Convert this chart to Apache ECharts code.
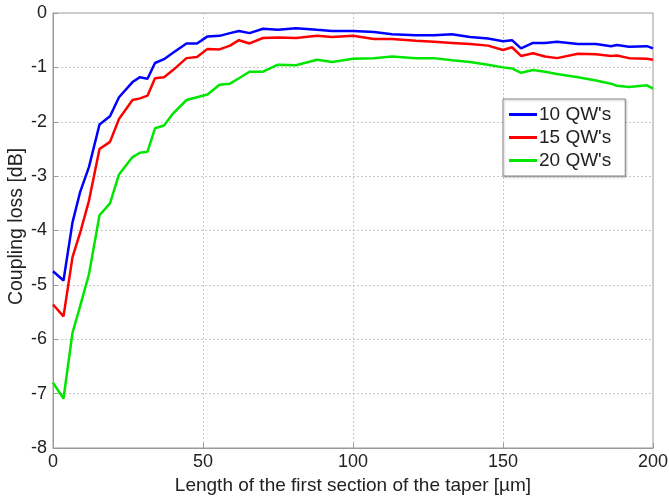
<!DOCTYPE html>
<html>
<head>
<meta charset="utf-8">
<script src="https://cdn.jsdelivr.net/npm/echarts@6/dist/echarts.min.js"></script>
<style>
  html, body { margin: 0; padding: 0; background: #fff; }
  #chart { width: 669px; height: 496px; }
</style>
</head>
<body>
<div id="chart"></div>
<script>
// taper length samples (µm)
var lengths = [0, 3.5, 6.5, 9, 12, 15.5, 19, 22, 26.5, 29, 31.5, 34, 37, 40, 44.5, 48,
  51.5, 55.5, 59, 62, 65.5, 70, 75, 81, 88, 93, 100, 107, 113, 121, 127, 133, 139,
  145, 150, 153, 156, 160, 164, 168, 175, 181, 186, 188, 192, 198, 200]

var qw10 = [-4.75, -4.92, -3.85, -3.3, -2.83, -2.05, -1.9, -1.55, -1.27, -1.18, -1.21, -0.92,
  -0.85, -0.73, -0.56, -0.56, -0.43, -0.42, -0.37, -0.33, -0.37, -0.29, -0.31, -0.28, -0.31,
  -0.33, -0.33, -0.35, -0.39, -0.41, -0.41, -0.39, -0.44, -0.47, -0.52, -0.5, -0.65, -0.55,
  -0.55, -0.53, -0.57, -0.57, -0.61, -0.59, -0.62, -0.61, -0.65]

var qw15 = [-5.36, -5.58, -4.49, -4.05, -3.45, -2.5, -2.37, -1.95, -1.6, -1.57, -1.52, -1.2,
  -1.18, -1.05, -0.83, -0.81, -0.66, -0.67, -0.6, -0.5, -0.56, -0.46, -0.45, -0.46, -0.42,
  -0.44, -0.42, -0.48, -0.48, -0.51, -0.53, -0.55, -0.57, -0.6, -0.68, -0.63, -0.79, -0.74,
  -0.8, -0.83, -0.75, -0.76, -0.79, -0.78, -0.83, -0.84, -0.86]

var qw20 = [-6.8, -7.09, -5.88, -5.4, -4.8, -3.72, -3.5, -2.97, -2.65, -2.57, -2.55, -2.12,
  -2.07, -1.85, -1.6, -1.55, -1.5, -1.32, -1.3, -1.2, -1.08, -1.08, -0.95, -0.96, -0.86,
  -0.9, -0.84, -0.83, -0.8, -0.83, -0.83, -0.87, -0.9, -0.95, -1.0, -1.02, -1.1, -1.05,
  -1.08, -1.12, -1.18, -1.24, -1.3, -1.34, -1.36, -1.33, -1.39]

var seriesNames = ["10 QW's", "15 QW's", "20 QW's"]
var seriesColors = ['#0000ff', '#ff0000', '#00e600']

function pairs(ys) {
  return lengths.map(function (x, i) { return [x, ys[i]] })
}

var chart = echarts.init(document.getElementById('chart'))
var font = 'Liberation Sans, Arial, sans-serif'

chart.setOption({
  animation: false,
  textStyle: { fontFamily: font },
  grid: {
    left: 53, right: 16, top: 13, bottom: 48,
    outerBoundsMode: 'none',
    containLabel: false,
    show: true, borderColor: '#9a9a9a', borderWidth: 1
  },
  legend: {
    orient: 'vertical',
    left: 503, top: 99,
    padding: [6, 14, 6, 6],
    itemGap: 4,
    itemWidth: 28, itemHeight: 3,
    icon: 'rect',
    backgroundColor: '#fff',
    borderColor: '#8a8a8a',
    borderWidth: 1,
    shadowColor: 'rgba(0,0,0,0.25)',
    shadowBlur: 2, shadowOffsetX: 1, shadowOffsetY: 1,
    textStyle: { fontSize: 19, color: '#222', fontFamily: font, padding: [0, 0, 0, -3] },
    data: seriesNames
  },
  xAxis: {
    type: 'value',
    min: 0, max: 200, interval: 50,
    name: 'Length of the first section of the taper [\u00b5m]',
    nameLocation: 'middle',
    nameGap: 22,
    nameTextStyle: { fontSize: 19, color: '#222' },
    axisLine: { onZero: false, lineStyle: { color: '#9a9a9a' } },
    axisTick: { inside: true, length: 5, lineStyle: { color: '#9a9a9a' } },
    axisLabel: { fontSize: 18, color: '#222', margin: 5 },
    splitLine: { show: true, lineStyle: { type: [2, 2], color: '#c8c8c8' } }
  },
  yAxis: {
    type: 'value',
    min: -8, max: 0, interval: 1,
    name: 'Coupling loss [dB]',
    nameLocation: 'middle',
    nameGap: 26,
    nameMoveOverlap: false,
    nameTextStyle: { fontSize: 19.5, color: '#222', padding: [0, 0, 0, 8] },
    axisLine: { lineStyle: { color: '#9a9a9a' } },
    axisTick: { inside: true, length: 5, lineStyle: { color: '#9a9a9a' } },
    axisLabel: { fontSize: 18, color: '#222', margin: 6 },
    splitLine: { show: true, lineStyle: { type: [2, 2], color: '#c8c8c8' } }
  },
  series: [qw10, qw15, qw20].map(function (ys, i) {
    return {
      name: seriesNames[i],
      type: 'line',
      data: pairs(ys),
      showSymbol: false,
      color: seriesColors[i],
      lineStyle: { width: 2.5, color: seriesColors[i] }
    }
  })
})
</script>
</body>
</html>
